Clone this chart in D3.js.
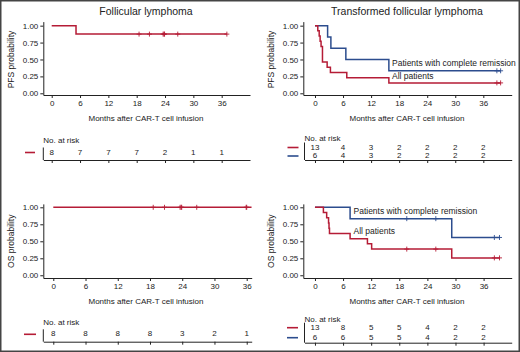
<!DOCTYPE html>
<html>
<head>
<meta charset="utf-8">
<script src="https://cdn.jsdelivr.net/npm/d3@7"></script>
<style>
  body { margin: 0; background: #fff; }
  svg { display: block; font-family: "Liberation Sans Narrow", "Liberation Sans", sans-serif; }
  .axis path, .axis line { stroke: #222; }
  .axis text { fill: #222; font-size: 8px; font-family: "Liberation Sans Narrow", sans-serif; }
</style>
</head>
<body>
<svg id="chart" width="520" height="352"></svg>
<script>
// shared ticks
const timeTicks = [0, 6, 12, 18, 24, 30, 36];
const probTicks = [0, 0.25, 0.5, 0.75, 1];

// follicular lymphoma, PFS (step points, survival after each step)
const flPfsTimes = [0, 5.15, 37.1];
const flPfsSurv = [1, 0.875, 0.875];
const flPfsCensor = [18.5, 20.7, 23.6, 23.8, 23.9, 26.7, 37.1];
const flPfsRisk = [8, 7, 7, 7, 2, 1, 1];

// transformed FL, PFS
const tflPfsAllTimes = [0, 0.6, 0.9, 1.1, 1.3, 1.6, 2.6, 3.3, 6.8, 15.8, 39.7];
const tflPfsAllSurv = [1, 0.923, 0.846, 0.769, 0.692, 0.462, 0.385, 0.308, 0.231, 0.154, 0.154];
const tflPfsAllCensor = [38.9, 39.7];
const tflPfsCrTimes = [0, 2.7, 3.4, 6.6, 15.8, 39.7];
const tflPfsCrSurv = [1, 0.833, 0.667, 0.5, 0.333, 0.333];
const tflPfsCrCensor = [38.9, 39.7];
const tflPfsAllRisk = [13, 4, 3, 2, 2, 2, 2];
const tflPfsCrRisk = [6, 4, 3, 2, 2, 2, 2];

// follicular lymphoma, OS
const flOsTimes = [0, 36.9];
const flOsSurv = [1, 1];
const flOsCensor = [18.6, 20.7, 23.6, 23.8, 23.9, 26.7, 35.9, 36.0];
const flOsRisk = [8, 8, 8, 8, 3, 2, 1];

// transformed FL, OS
const tflOsAllTimes = [0, 1.8, 2.5, 2.9, 3.0, 3.1, 7.5, 11.2, 12.1, 29.2, 39.4];
const tflOsAllSurv = [1, 0.923, 0.846, 0.769, 0.692, 0.615, 0.538, 0.462, 0.385, 0.256, 0.256];
const tflOsAllCensor = [19.6, 25.8, 38.3, 39.4];
const tflOsCrTimes = [0, 7.5, 29.2, 39.4];
const tflOsCrSurv = [1, 0.833, 0.556, 0.556];
const tflOsCrCensor = [19.6, 25.8, 38.3, 39.4];
const tflOsAllRisk = [13, 8, 5, 5, 4, 2, 2];
const tflOsCrRisk = [6, 6, 5, 5, 4, 2, 2];

const RED = "#b51c36";
const BLUE = "#2c4d8e";
const svg = d3.select("#chart");

function zipCurve(times, surv) {
  return times.map((t, i) => ({ t: t, s: surv[i] }));
}

// survival value at time t for a step curve
function survAt(curve, t) {
  let s = curve[0].s;
  curve.forEach(p => { if (p.t <= t) s = p.s; });
  return s;
}

// one KM panel: geometry here, data from the arrays above
function drawPanel(p) {
  const g = svg.append("g");
  const x = d3.scaleLinear().domain(p.xDomain).range(p.xRange);
  const y = d3.scaleLinear().domain(p.yDomain).range(p.yRange);

  if (p.title) {
    g.append("text").attr("x", p.titleX).attr("y", p.yRange[1] - 6.5)
      .attr("text-anchor", "middle").attr("font-size", 10.5).attr("fill", "#222")
      .text(p.title);
  }

  g.append("g").attr("class", "axis")
    .attr("transform", `translate(0,${p.yRange[0]})`)
    .call(d3.axisBottom(x).tickValues(timeTicks).tickSize(3).tickSizeOuter(0).tickPadding(2));

  g.append("g").attr("class", "axis")
    .attr("transform", `translate(${p.xRange[0]},0)`)
    .call(d3.axisLeft(y).tickValues(probTicks).tickSize(3).tickSizeOuter(0).tickPadding(2)
      .tickFormat(d3.format(".2f")));

  g.append("text")
    .attr("transform", `translate(${p.xRange[0] - 29},${(y(0) + y(1)) / 2}) rotate(-90)`)
    .attr("text-anchor", "middle").attr("font-size", 8.5).attr("fill", "#222")
    .text(p.yLabel);

  g.append("text").attr("x", p.titleX).attr("y", p.yRange[0] + 26)
    .attr("text-anchor", "middle").attr("font-size", 8).attr("fill", "#222")
    .text("Months after CAR-T cell infusion");

  const line = d3.line().x(d => x(d.t)).y(d => y(d.s)).curve(d3.curveStepAfter);

  p.curves.forEach(c => {
    const pts = zipCurve(c.times, c.surv);
    g.append("path").datum(pts)
      .attr("d", line).attr("fill", "none")
      .attr("stroke", c.color).attr("stroke-width", 1.5);
    g.selectAll(null).data(c.censor).enter().append("path")
      .attr("d", t => {
        const cx = x(t), cy = y(survAt(pts, t));
        return `M${cx - 2.5},${cy}H${cx + 2.5}M${cx},${cy - 2.5}V${cy + 2.5}`;
      })
      .attr("stroke", c.color).attr("stroke-width", 0.9);
    if (c.label) {
      g.append("text").attr("x", c.labelX).attr("y", c.labelY)
        .attr("font-size", 8.5).attr("fill", "#222").attr("dominant-baseline", "middle")
        .text(c.label);
    }
  });

  // number at risk table
  const r = p.risk;
  g.append("text").attr("x", r.left).attr("y", r.headY)
    .attr("font-size", 8).attr("fill", "#222").attr("dominant-baseline", "middle")
    .text("No. at risk");
  g.append("line").attr("x1", r.left).attr("x2", r.left)
    .attr("y1", r.rows[0].y - 5).attr("y2", r.axisY)
    .attr("stroke", "#222");
  g.append("g").attr("class", "axis")
    .attr("transform", `translate(0,${r.axisY})`)
    .call(d3.axisBottom(x.copy().range([r.left, p.xRange[1]]).domain([x.invert(r.left), p.xDomain[1]]))
      .tickValues(timeTicks).tickSize(3).tickSizeOuter(0).tickFormat(""));
  r.rows.forEach(row => {
    g.append("line").attr("x1", r.dash[0]).attr("x2", r.dash[1])
      .attr("y1", row.y).attr("y2", row.y)
      .attr("stroke", row.color).attr("stroke-width", 1.6);
    g.selectAll(null).data(row.values).enter().append("text")
      .attr("x", (d, i) => x(timeTicks[i])).attr("y", row.y)
      .attr("text-anchor", "middle").attr("dominant-baseline", "middle")
      .attr("font-size", 8).attr("fill", "#222")
      .text(d => d);
  });
}

drawPanel({
  title: "Follicular lymphoma", titleX: 146, yLabel: "PFS probability",
  xDomain: [-1.78, 42.0], xRange: [43.3, 250],
  yDomain: [-0.025, 1.06], yRange: [95, 21.6],
  curves: [{ times: flPfsTimes, surv: flPfsSurv, censor: flPfsCensor, color: RED }],
  risk: { left: 43.3, headY: 141, axisY: 160, dash: [25, 35],
    rows: [{ y: 152.5, values: flPfsRisk, color: RED }] }
});

drawPanel({
  title: "Transformed follicular lymphoma", titleX: 407, yLabel: "PFS probability",
  xDomain: [-2.5, 42.07], xRange: [303.3, 511.7],
  yDomain: [-0.025, 1.06], yRange: [95, 21.6],
  curves: [
    { times: tflPfsCrTimes, surv: tflPfsCrSurv, censor: tflPfsCrCensor, color: BLUE,
      label: "Patients with complete remission", labelX: 392, labelY: 63.5 },
    { times: tflPfsAllTimes, surv: tflPfsAllSurv, censor: tflPfsAllCensor, color: RED,
      label: "All patients", labelX: 392, labelY: 76.5 }
  ],
  risk: { left: 304.5, headY: 138.5, axisY: 160, dash: [287.5, 298.5],
    rows: [{ y: 147.5, values: tflPfsAllRisk, color: RED },
           { y: 156, values: tflPfsCrRisk, color: BLUE }] }
});

drawPanel({
  title: null, titleX: 146, yLabel: "OS probability",
  xDomain: [-1.86, 36.93], xRange: [43.3, 251.7],
  yDomain: [-0.04, 1.05], yRange: [278, 203.9],
  curves: [{ times: flOsTimes, surv: flOsSurv, censor: flOsCensor, color: RED }],
  risk: { left: 43.3, headY: 323, axisY: 341.7, dash: [24, 36],
    rows: [{ y: 334.3, values: flOsRisk, color: RED }] }
});

drawPanel({
  title: null, titleX: 407, yLabel: "OS probability",
  xDomain: [-2.49, 42.0], xRange: [303.3, 511.7],
  yDomain: [-0.04, 1.05], yRange: [278, 203.9],
  curves: [
    { times: tflOsCrTimes, surv: tflOsCrSurv, censor: tflOsCrCensor, color: BLUE,
      label: "Patients with complete remission", labelX: 353.5, labelY: 212 },
    { times: tflOsAllTimes, surv: tflOsAllSurv, censor: tflOsAllCensor, color: RED,
      label: "All patients", labelX: 353.5, labelY: 232 }
  ],
  risk: { left: 304.5, headY: 320, axisY: 342.7, dash: [287, 298],
    rows: [{ y: 327.7, values: tflOsAllRisk, color: RED },
           { y: 337.7, values: tflOsCrRisk, color: BLUE }] }
});

// outer frame
svg.append("rect").attr("x", 0.75).attr("y", 0.75).attr("width", 518.5).attr("height", 350.5)
  .attr("fill", "none").attr("stroke", "#444").attr("stroke-width", 1.5);
</script>
</body>
</html>
